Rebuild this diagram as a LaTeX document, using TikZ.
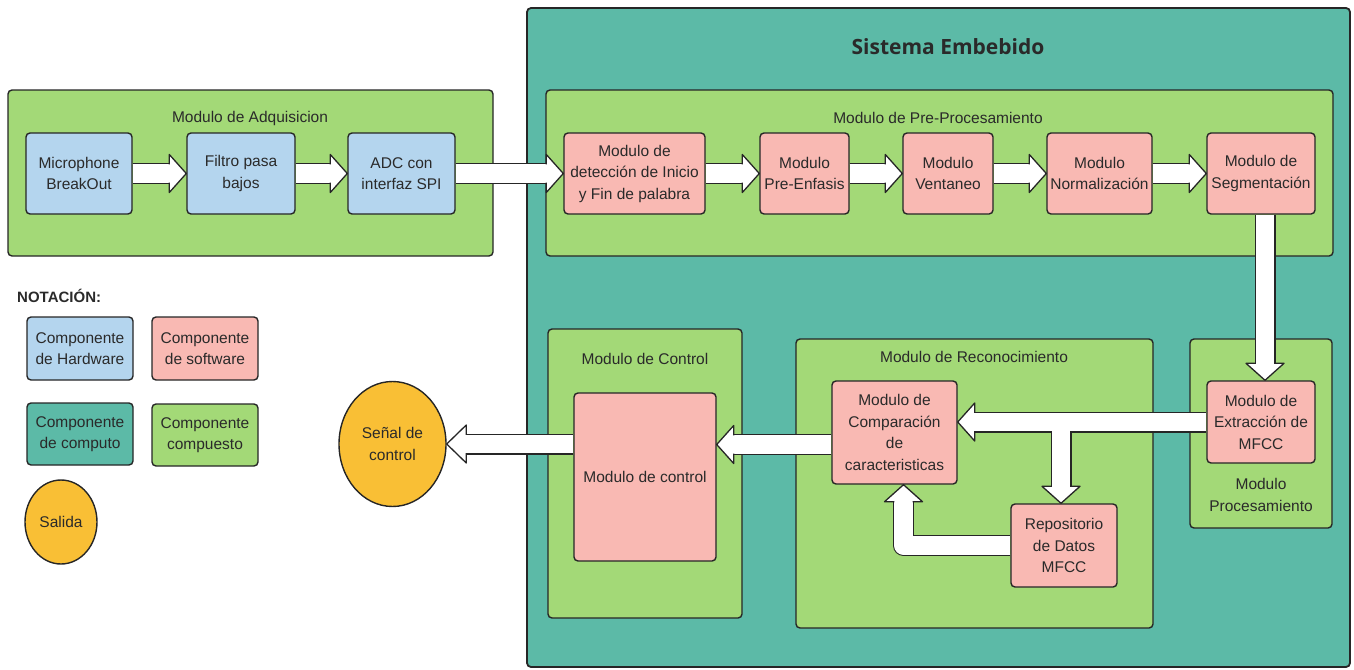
\documentclass[tikz,border=0pt]{standalone}
\usepackage{fontspec}
\setmainfont{Liberation Sans}
\newfontfamily\headfont{Open Sans}
\usetikzlibrary{shapes.geometric,calc}

\definecolor{systeal}{RGB}{92,186,167}
\definecolor{grpgreen}{RGB}{163,217,119}
\definecolor{swpink}{RGB}{249,185,179}
\definecolor{hwblue}{RGB}{180,213,238}
\definecolor{outorange}{RGB}{249,191,53}
\definecolor{edge}{RGB}{38,38,38}
\definecolor{ink}{RGB}{42,42,42}

\newcommand\boxfont{\fontsize{15.5}{21.5}\selectfont}

\tikzset{
  base/.style={draw=edge, line width=1.4pt, rounded corners=4pt, align=center,
    inner sep=1pt, text=ink, font=\boxfont},
  hw/.style={base, fill=hwblue},
  sw/.style={base, fill=swpink},
  grp/.style={base, fill=grpgreen},
  cpu/.style={base, fill=systeal},
  outp/.style={ellipse, draw=edge, line width=1.4pt, fill=outorange, align=center,
    inner sep=0pt, text=ink, font=\boxfont},
  lbl/.style={align=center, text=ink, font=\boxfont, inner sep=0pt},
  sz/.style 2 args={minimum width=#1, minimum height=#2},
  shaftout/.style={line width=21pt, draw=edge, line join=round},
  shaftin/.style={line width=18.4pt, draw=white, line join=round},
  fathead/.pic={
    \filldraw[fill=white, draw=edge, line width=1.3pt, line join=round]
      (-17,9.2) -- (-17,19) -- (0,0) -- (-17,-19) -- (-17,-9.2);
  }
}

\begin{document}
\begin{tikzpicture}[x=1pt, y=-1pt]
\useasboundingbox (0,0) rectangle (1354,669);

% embedded system container
\node[cpu, line width=1.8pt, sz={823}{659}] (sys) at (938.5,337.5) {};
\node[lbl, font=\headfont\bfseries\fontsize{21}{24}\selectfont] (sysT) at (948,47) {Sistema Embebido};

% acquisition module
\node[grp, sz={485}{166}] (adq) at (250.5,173) {};
\node[lbl] (adqT) at (250,118) {Modulo de Adquisicion};
\node[hw, sz={106}{81}] (mic) at (79,173.5) {Microphone\\BreakOut};
\node[hw, sz={108}{81}] (fil) at (241,173.5) {Filtro pasa\\bajos};
\node[hw, sz={107}{81}] (adc) at (401.5,173.5) {ADC con\\interfaz SPI};

% pre-processing module
\node[grp, sz={787}{166}] (pre) at (939.5,173) {};
\node[lbl] (preT) at (938,118) {Modulo de Pre-Procesamiento};
\node[sw, sz={141}{81}] (det) at (634.5,173.5) {Modulo de\\detección de Inicio\\y Fin de palabra};
\node[sw, sz={89}{81}] (pe) at (804.5,173.5) {Modulo\\Pre-Enfasis};
\node[sw, sz={90}{81}] (ven) at (948,173.5) {Modulo\\Ventaneo};
\node[sw, sz={105}{81}] (nor) at (1099.5,173.5) {Modulo\\Normalización};
\node[sw, sz={108}{81}] (seg) at (1261,173.5) {Modulo de\\Segmentación};

% processing module
\node[grp, sz={142}{189}] (proc) at (1261,433.5) {};
\node[sw, sz={108}{82}] (ext) at (1261,422) {Modulo de\\Extracción de\\MFCC};
\node[lbl] (procT) at (1261,495) {Modulo\\Procesamiento};

% recognition module
\node[grp, sz={357}{289}] (rec) at (974.5,483.5) {};
\node[lbl] (recT) at (974,357) {Modulo de Reconocimiento};
\node[sw, sz={125}{103}] (cmp) at (894.5,432.5) {Modulo de\\Comparación\\de\\caracteristicas};
\node[sw, sz={106}{83}] (rep) at (1064,545.5) {Repositorio\\de Datos\\MFCC};

% control module
\node[grp, sz={194}{289}] (ctg) at (645,473.5) {};
\node[lbl] (ctgT) at (645,359) {Modulo de Control};
\node[sw, sz={142}{168}] (ctl) at (645,477) {Modulo de control};

% output
\node[outp, sz={107}{125}] (sen) at (392.5,444) {Señal de\\control};

% notation legend
\node[lbl, anchor=west, font=\bfseries\fontsize{15}{18}\selectfont] (notT) at (17,296) {NOTACIÓN:};
\node[hw, sz={106}{63}] (lhw) at (80,348.5) {Componente\\de Hardware};
\node[sw, sz={106}{63}] (lsw) at (205,348.5) {Componente\\de software};
\node[cpu, sz={106}{62}] (lcpu) at (80,434) {Componente\\de computo};
\node[grp, sz={106}{62}] (lgrp) at (205,435) {Componente\\compuesto};
\node[outp, sz={72}{84}] (lout) at (61,522) {Salida};

% block arrows along the acquisition / pre-processing chain
\foreach \a/\b in {mic/fil, fil/adc, adc/det, det/pe, pe/ven, ven/nor, nor/seg} {
  \draw[shaftout] (\a.east) -- ($(\b.west)+(-16,0)$);
  \draw[shaftin]  (\a.east) -- ($(\b.west)+(-16,0)$);
  \pic at (\b.west) {fathead};
}

% segmentation down to MFCC extraction
\coordinate (sd) at ($(seg.south)+(4,0)$);
\coordinate (ed) at ($(ext.north)+(4,0)$);
\draw[shaftout] (sd) -- ($(ed)+(0,-16)$);
\draw[shaftin]  (sd) -- ($(ed)+(0,-16)$);
\pic[rotate=-90] at (ed) {fathead};

% extraction to comparison, with a branch to the repository
\coordinate (xc) at (ext.west -| cmp.east);
\coordinate (xr) at ($(ext.west -| rep.north)+(-3,0)$);
\coordinate (rt) at ($(rep.north)+(-3,0)$);
\draw[shaftout] (ext.west) -- ($(xc)+(16,0)$);
\draw[shaftout] (xr) -- ($(rt)+(0,-16)$);
\draw[shaftin]  (ext.west) -- ($(xc)+(16,0)$);
\draw[shaftin]  (xr) -- ($(rt)+(0,-16)$);
\pic[rotate=180] at (xc) {fathead};
\pic[rotate=-90] at (rt) {fathead};

% repository back up to comparison
\coordinate (ru) at ($(cmp.south)+(9,0)$);
\draw[shaftout] (rep.west) -| ($(ru)+(0,16)$);
\draw[shaftin]  (rep.west) -| ($(ru)+(0,16)$);
\pic[rotate=90] at (ru) {fathead};

% comparison to control
\coordinate (k1) at ($(cmp.west)+(0,12)$);
\coordinate (k2) at (k1 -| ctl.east);
\draw[shaftout] (k1) -- ($(k2)+(16,0)$);
\draw[shaftin]  (k1) -- ($(k2)+(16,0)$);
\pic[rotate=180] at (k2) {fathead};

% control to output signal
\coordinate (k3) at (ctl.west |- sen.east);
\draw[shaftout] (k3) -- ($(sen.east)+(18,0)$);
\draw[shaftin]  (k3) -- ($(sen.east)+(18,0)$);
\pic[rotate=180, xscale=1.15] at (sen.east) {fathead};
\end{tikzpicture}
\end{document}
